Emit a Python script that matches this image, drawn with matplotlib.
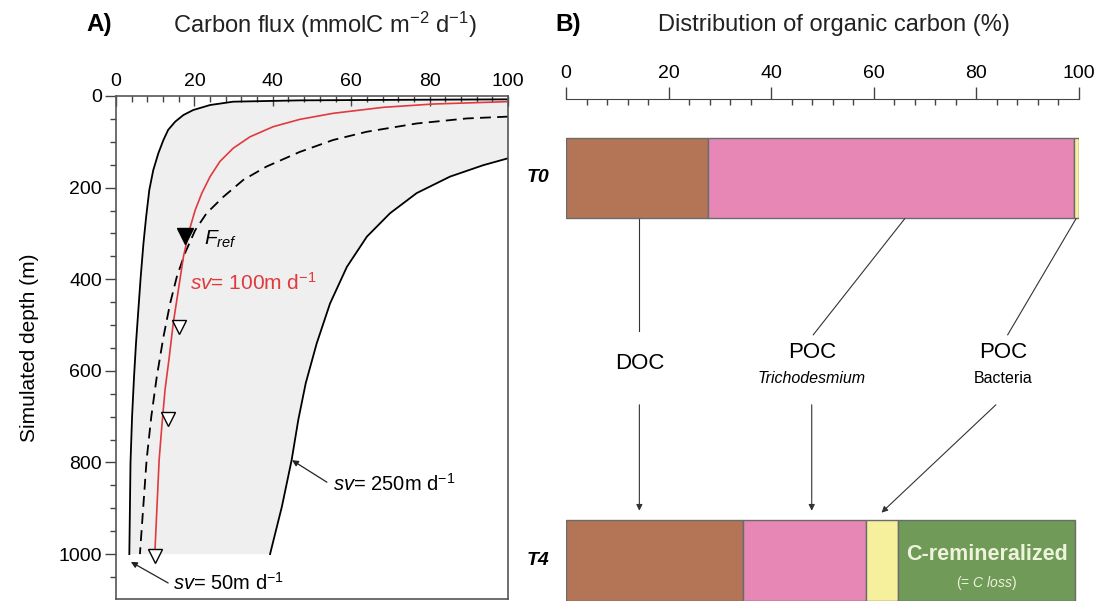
import numpy as np
import matplotlib
matplotlib.use("Agg")
import matplotlib.pyplot as plt
from matplotlib.ticker import MultipleLocator

plt.rcParams['font.family'] = ['Liberation Sans', 'DejaVu Sans']
plt.rcParams['mathtext.fontset'] = 'custom'
plt.rcParams['mathtext.rm'] = 'Liberation Sans'
plt.rcParams['mathtext.it'] = 'Liberation Sans:italic'
plt.rcParams['mathtext.bf'] = 'Liberation Sans:bold'

# ── Panel A data ───────────────────────────────────────────
flux_sv50  = [99.7, 64, 46.9, 29.9, 24.0, 19.7, 17.2, 15.1, 13.3, 12.1, 10.8, 9.5, 8.5, 7.7,
              7.0, 6.3, 5.7, 5.1, 4.6, 4.1, 3.7, 3.4]
depth_sv50 = [7.3, 8.7, 9.5, 12.4, 19.7, 30.6, 41.5, 56, 74, 96, 125, 162, 205, 263,
              322, 395, 467, 540, 613, 700, 800, 1000]

flux_sv100  = [99.7, 81, 68.2, 55.4, 46.9, 40.1, 34.2, 29.9, 26.5, 24.0, 21.9, 20.2, 18.7,
               17.2, 15.9, 14.6, 13.6, 12.5, 11.7, 11.0, 9.9]
depth_sv100 = [12.4, 17.5, 24.7, 37.8, 51, 67, 89, 114, 143, 176, 212, 249, 293,
               351, 424, 496, 569, 642, 720, 795, 1000]

flux_dash  = [100, 89.5, 76.7, 64, 55.4, 46.9, 38.4, 32.5, 27.4, 23.1, 20.2, 17.6, 15.5,
              13.8, 12.1, 10.4, 9.0, 7.8, 6.1]
depth_dash = [45, 49, 60, 78, 96, 122, 154, 183, 220, 256, 293, 343, 395,
              453, 526, 613, 700, 795, 1000]

flux_sv250  = [100, 93.7, 85.2, 76.7, 69.9, 64, 58.9, 54.6, 51.2, 48.4, 46.5, 44.8, 42.3, 39.3]
depth_sv250 = [136, 151, 176, 212, 256, 307, 373, 453, 540, 627, 707, 795, 897, 1000]

obs_flux  = [16.0, 13.2, 10.0]
obs_depth = [505, 705, 1005]
fref_flux, fref_depth = 17.6, 305

# ── Panel B data ───────────────────────────────────────────
rows = ["T0", "T4"]
pct_t0 = [27.6, 71.4, 1.0]
pct_t4 = [34.5, 23.9, 6.3, 34.6]
pool_colors = ["#b47456", "#e687b6", "#f6ef9c", "#6f9a57"]

W, H = 1105, 604
fig = plt.figure(figsize=(W / 100, H / 100), dpi=100)

def px_axes(l, t, r, b):
    return fig.add_axes([l / W, 1 - b / H, (r - l) / W, (b - t) / H])

# ── Panel A ────────────────────────────────────────────────
axA = px_axes(116, 96, 508, 599)
axA.set_xlim(0, 100)
axA.set_ylim(1098, 0)

poly_x = flux_sv50 + flux_sv250[::-1]
poly_y = depth_sv50 + depth_sv250[::-1]
axA.fill(poly_x, poly_y, color="#efefef", lw=0, zorder=0)

axA.plot(flux_sv50, depth_sv50, color="black", lw=1.3)
axA.plot(flux_sv250, depth_sv250, color="black", lw=1.3)
axA.plot(flux_dash, depth_dash, color="black", lw=1.3, dashes=(6, 3.5))
axA.plot(flux_sv100, depth_sv100, color="#e03a3e", lw=1.2)

axA.plot(obs_flux, obs_depth, "v", ms=10, mfc="white", mec="black", mew=1, clip_on=False)
axA.plot([fref_flux], [fref_depth], "v", ms=11, color="black")

axA.text(22.5, 314, r"$F_{ref}$", fontsize=15, va="center")
axA.text(18.9, 408, r"$\it{sv}$= 100m d$^{-1}$", color="#e03a3e", fontsize=15, va="center")
axA.text(55.4, 846, r"$\it{sv}$= 250m d$^{-1}$", fontsize=14.5, va="center")
axA.text(14.5, 1062, r"$\it{sv}$= 50m d$^{-1}$", fontsize=14.5, va="center")
arrow = dict(arrowstyle="-|>", color="#222222", lw=0.9, mutation_scale=9, shrinkA=0, shrinkB=0)
axA.annotate("", xy=(44.9, 795), xytext=(53.8, 843), arrowprops=arrow)
axA.annotate("", xy=(3.8, 1017), xytext=(13.3, 1063), arrowprops=arrow)

axA.xaxis.tick_top()
axA.xaxis.set_major_locator(MultipleLocator(20))
axA.xaxis.set_minor_locator(MultipleLocator(4))
axA.yaxis.set_major_locator(MultipleLocator(200))
axA.yaxis.set_minor_locator(MultipleLocator(50))
axA.set_yticks(range(0, 1001, 200))
axA.tick_params(axis="x", which="major", direction="in", length=7, width=1, labelsize=14, pad=4, color="#444444")
axA.tick_params(axis="x", which="minor", direction="in", length=4, width=1, color="#444444")
axA.tick_params(axis="y", which="major", direction="out", length=8, width=1, labelsize=14, pad=2, color="#444444")
axA.tick_params(axis="y", which="minor", direction="out", length=4, width=1, color="#444444")
for s in axA.spines.values():
    s.set_color("#555555")
    s.set_linewidth(1.2)
axA.set_ylabel("Simulated depth (m)", fontsize=15, labelpad=14)

fig.text(86 / W, 1 - 25 / H, "A)", fontsize=17.5, fontweight="bold", va="center")
fig.text(325 / W, 1 - 25 / H, r"Carbon flux (mmolC m$^{-2}$ d$^{-1}$)", fontsize=17, va="center", ha="center", color="#222222")

# ── Panel B ────────────────────────────────────────────────
axB = px_axes(566, 99, 1079, 601)
axB.set_xlim(0, 100)
axB.set_ylim(1.106, -0.2065)
for name in ["left", "right", "bottom"]:
    axB.spines[name].set_visible(False)
axB.spines["top"].set_color("#444444")
axB.xaxis.tick_top()
axB.set_yticks([])
axB.xaxis.set_major_locator(MultipleLocator(20))
axB.xaxis.set_minor_locator(MultipleLocator(4))
axB.tick_params(axis="x", which="major", direction="out", length=9, width=1, labelsize=14, pad=3, color="#444444")
axB.tick_params(axis="x", which="minor", direction="in", length=4, width=1, color="#444444")

bar_h = 0.21
for row, pcts in zip([0, 1], [pct_t0, pct_t4]):
    left = np.concatenate([[0], np.cumsum(pcts)[:-1]])
    axB.barh([row] * len(pcts), pcts, left=left, height=bar_h,
             color=pool_colors[:len(pcts)], edgecolor="#6b6b6b", lw=1)
    axB.text(-3.3, row, rows[row], fontsize=14, fontweight="bold", style="italic", ha="right", va="center")

remin_x = sum(pct_t4[:3]) + pct_t4[3] / 2
axB.text(remin_x, 0.985, "C-remineralized", fontsize=15.5, fontweight="bold", color="#eef4dc", ha="center", va="center")
axB.text(remin_x, 1.058, r"(= $\it{C\ loss}$)", fontsize=10, color="#eef4dc", ha="center", va="center")

# labels between the bars
axB.text(14.3, 0.484, "DOC", fontsize=16, ha="center", va="center")
axB.text(47.9, 0.455, "POC", fontsize=16, ha="center", va="center")
axB.text(47.9, 0.525, "Trichodesmium", fontsize=11.5, style="italic", ha="center", va="center")
axB.text(85.2, 0.455, "POC", fontsize=16, ha="center", va="center")
axB.text(85.2, 0.525, "Bacteria", fontsize=11.5, ha="center", va="center")

line_kw = dict(color="#333333", lw=0.8)
axB.plot([14.3, 14.3], [0.107, 0.40], **line_kw)
axB.plot([66.0, 48.2], [0.107, 0.41], **line_kw)
axB.plot([99.4, 86.1], [0.107, 0.41], **line_kw)
arr = dict(arrowstyle="-|>", color="#333333", lw=0.8, mutation_scale=9, shrinkA=0, shrinkB=0)
axB.annotate("", xy=(14.3, 0.87), xytext=(14.3, 0.593), arrowprops=arr)
axB.annotate("", xy=(47.9, 0.87), xytext=(47.9, 0.593), arrowprops=arr)
axB.annotate("", xy=(61.5, 0.875), xytext=(83.8, 0.593), arrowprops=arr)

fig.text(555 / W, 1 - 25 / H, "B)", fontsize=17.5, fontweight="bold", va="center")
fig.text(834 / W, 1 - 25 / H, "Distribution of organic carbon (%)", fontsize=17, va="center", ha="center", color="#222222")

fig.savefig("out.png", dpi=100)
